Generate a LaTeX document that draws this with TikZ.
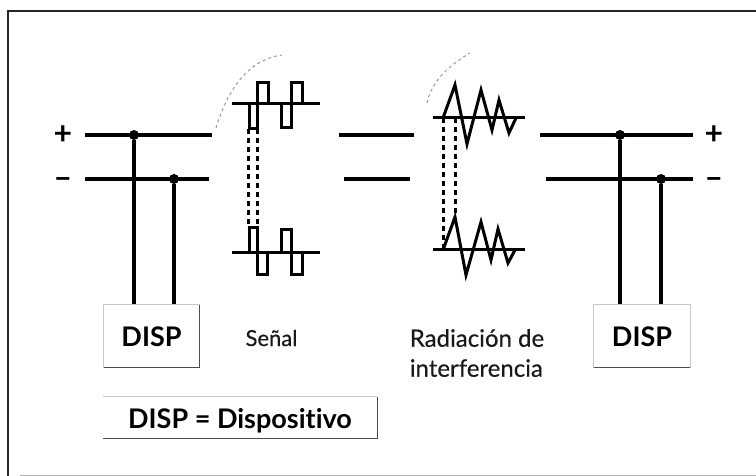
\documentclass[tikz,border=0pt]{standalone}
\usepackage{fontspec}
\setmainfont[Ligatures=NoCommon]{Lato}
\usetikzlibrary{positioning}

\begin{document}
\begin{tikzpicture}[
      x=1pt, y=-1pt,
      bus/.style={line width=4pt},
      wave/.style={line width=3pt, line join=miter},
      cut/.style={line width=3pt, dash pattern=on 5.5pt off 3.5pt},
      tie/.style={circle, fill=black, inner sep=0pt, minimum size=10pt},
      disp/.style={inner sep=0pt, minimum width=96pt, text height=41.5pt, text depth=21.5pt, font=\fontsize{27}{27}\bfseries\selectfont},
      key/.style={inner sep=0pt, minimum width=274pt, text height=31pt, text depth=10pt, font=\fontsize{27}{27}\bfseries\selectfont},
      label/.style={inner sep=0pt, align=left, text=black!90, font=\fontsize{24}{30}\selectfont\addfontfeature{FakeBold=0.4}},
      sign/.style={inner sep=0pt, font=\fontsize{32}{32}\bfseries\selectfont},
      edgeline/.style={line width=1.3pt, black!70},
      faint/.style={line width=0.8pt, black!22},
      trace/.style={line width=1pt, black!40, dash pattern=on 3pt off 3pt}
    ]
    \useasboundingbox (0,0) rectangle (756,476);
    \draw[line width=2pt, black!85] (756,11) -- (8,11) -- (8,476);
    \draw[line width=1pt, black!30] (20,475) -- (756,475);

    \node[disp] (L) at (151.5,336) {DISP};
    \node[disp] (R) at (642,336) {DISP};
    \node[key] (K) at (240,417.5) {DISP = Dispositivo};
    \node[label, font=\fontsize{22}{30}\selectfont\addfontfeature{FakeBold=0.4}] (S) at (271.5,338) {Señal};
    \node[label] (I) at (477,353) {Radiación de\\interferencia};

    \draw[edgeline] (L.north east) -- (L.south east) -- (L.south west);
    \draw[faint] (L.north west) -- (L.north east);
    \draw[faint] (L.north west) -- (L.south west);
    \draw[edgeline] (R.south west) -- (R.south east);
    \draw[faint] (R.north east) -- (R.south east);
    \draw[faint] (R.north west) -- (R.north east);
    \draw[faint] (R.north west) -- (R.south west);
    \draw[edgeline] (K.north east) -- (K.south east) -- (K.south west);
    \draw[faint] (K.north west) -- (K.north east);

    \node[sign] (LP) at (63,135) {+};
    \node[sign] (LM) at (63,183) {–};
    \node[sign] (RP) at (714,135) {+};
    \node[sign] (RM) at (714,183) {–};

    \node[tie] (LA) at (134,135) {};
    \node[tie] (LB) at (174,179) {};
    \node[tie] (RA) at (620,135) {};
    \node[tie] (RB) at (661,179) {};

    \coordinate (a1) at (85,135);
    \coordinate (a2) at (212,135);
    \coordinate (b1) at (85,179);
    \coordinate (b2) at (209,179);
    \coordinate (c1) at (339,135);
    \coordinate (c2) at (414,135);
    \coordinate (d1) at (344,179);
    \coordinate (d2) at (410,179);
    \coordinate (e1) at (540,135);
    \coordinate (e2) at (693,135);
    \coordinate (f1) at (546,179);
    \coordinate (f2) at (693,179);

    \draw[bus] (a1) -- (a2);
    \draw[bus] (b1) -- (b2);
    \draw[bus] (c1) -- (c2);
    \draw[bus] (d1) -- (d2);
    \draw[bus] (e1) -- (e2);
    \draw[bus] (f1) -- (f2);

    \draw[bus] (LA) -- (LA |- L.north);
    \draw[bus] (LB) -- (LB |- L.north);
    \draw[bus] (RA) -- (RA |- R.north);
    \draw[bus] (RB) -- (RB |- R.north);

    \draw[wave] (232,104) -- (320,104);
    \draw[wave] (249,104) -- (249,129) -- (257,129) -- (257,83) -- (268,83) -- (268,104);
    \draw[wave] (281,104) -- (281,128) -- (291,128) -- (291,83) -- (302,83) -- (302,104);
    \draw[wave] (232,253) -- (320,253);
    \draw[wave] (249,253) -- (249,228) -- (257,228) -- (257,275) -- (267,275) -- (267,253);
    \draw[wave] (281,253) -- (281,230) -- (291,230) -- (291,275) -- (302,275) -- (302,253);
    \draw[cut] (248,129) -- (248,228);
    \draw[cut] (257,129) -- (257,228);

    \draw[wave] (433,118) -- (525,118);
    \draw[wave] (443,118) -- (455,85) -- (467,144) -- (481,90) -- (492,130) -- (499,100) -- (509,133) -- (516,118);
    \draw[wave] (433,250) -- (525,250);
    \draw[wave] (443,250) -- (455,217) -- (466,275) -- (481,222) -- (491,260) -- (498,229) -- (508,263) -- (515,250);
    \draw[cut] (443,118) -- (443,250);
    \draw[cut] (455,118) -- (455,217);

    \draw[trace] (216,128) .. controls (226,95) and (245,60) .. (282,55);
    \draw[trace] (427,103) .. controls (432,80) and (450,65) .. (470,53);
\end{tikzpicture}
\end{document}
